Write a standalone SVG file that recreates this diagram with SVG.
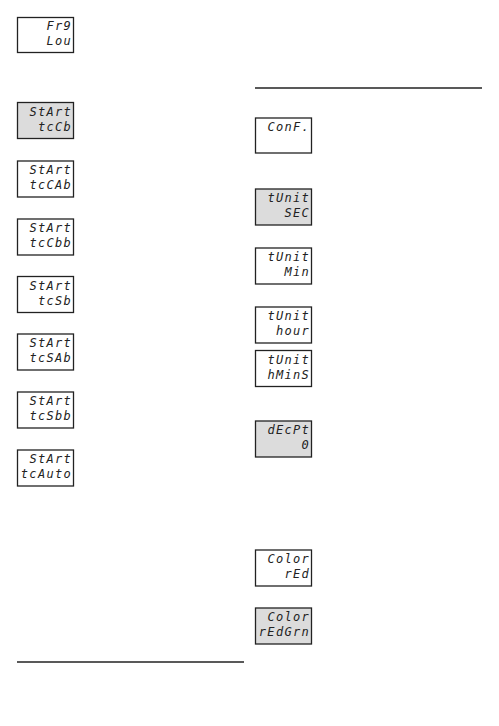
<svg xmlns="http://www.w3.org/2000/svg" width="499" height="726" viewBox="0 0 499 726">
<style>
.box{fill:#fff;stroke:#222;stroke-width:1.3}
.sel{fill:#dcdcdc;stroke:#222;stroke-width:1.3}
.t{font-family:"DejaVu Sans Mono","Liberation Mono",monospace;font-style:oblique;font-size:12px;letter-spacing:1.3px;fill:#222;text-anchor:end}
.rule{stroke:#222;stroke-width:1.5}
</style>
<rect width="499" height="726" fill="#fff"/>
<g id="n-frq"><rect class="box" x="17.5" y="17.5" width="56" height="35"/><text class="t" x="72" y="30">Fr9</text><text class="t" x="72" y="45">Lou</text></g>
<g id="n-tccb"><rect class="sel" x="17.5" y="102.5" width="56" height="36"/><text class="t" x="72" y="116">StArt</text><text class="t" x="72" y="131">tcCb</text></g>
<g id="n-tccab"><rect class="box" x="17.5" y="161" width="56" height="36"/><text class="t" x="72" y="174">StArt</text><text class="t" x="72" y="189">tcCAb</text></g>
<g id="n-tccbb"><rect class="box" x="17.5" y="219" width="56" height="36"/><text class="t" x="72" y="232">StArt</text><text class="t" x="72" y="247">tcCbb</text></g>
<g id="n-tcsb"><rect class="box" x="17.5" y="276.5" width="56" height="36"/><text class="t" x="72" y="290">StArt</text><text class="t" x="72" y="305">tcSb</text></g>
<g id="n-tcsab"><rect class="box" x="17.5" y="334" width="56" height="36"/><text class="t" x="72" y="347">StArt</text><text class="t" x="72" y="362">tcSAb</text></g>
<g id="n-tcsbb"><rect class="box" x="17.5" y="392" width="56" height="36"/><text class="t" x="72" y="405">StArt</text><text class="t" x="72" y="420">tcSbb</text></g>
<g id="n-tcauto"><rect class="box" x="17.5" y="450" width="56" height="36"/><text class="t" x="72" y="463">StArt</text><text class="t" x="72" y="478">tcAuto</text></g>
<g id="n-conf"><rect class="box" x="255.5" y="118" width="56" height="35"/><text class="t" x="310" y="131">ConF.</text></g>
<g id="n-sec"><rect class="sel" x="255.5" y="189" width="56" height="36"/><text class="t" x="310" y="202">tUnit</text><text class="t" x="310" y="217">SEC</text></g>
<g id="n-min"><rect class="box" x="255.5" y="248" width="56" height="36"/><text class="t" x="310" y="261">tUnit</text><text class="t" x="310" y="276">Min</text></g>
<g id="n-hour"><rect class="box" x="255.5" y="307" width="56" height="36"/><text class="t" x="310" y="320">tUnit</text><text class="t" x="310" y="335">hour</text></g>
<g id="n-hmins"><rect class="box" x="255.5" y="350.5" width="56" height="36"/><text class="t" x="310" y="364">tUnit</text><text class="t" x="310" y="379">hMinS</text></g>
<g id="n-decpt"><rect class="sel" x="255.5" y="421" width="56" height="36"/><text class="t" x="310" y="434">dEcPt</text><text class="t" x="310" y="449">0</text></g>
<g id="n-red"><rect class="box" x="255.5" y="550" width="56" height="36"/><text class="t" x="310" y="563">Color</text><text class="t" x="310" y="578">rEd</text></g>
<g id="n-redgrn"><rect class="sel" x="255.5" y="608" width="56" height="36"/><text class="t" x="310" y="621">Color</text><text class="t" x="310" y="636">rEdGrn</text></g>
<g id="connectors">
<line class="rule" x1="255" y1="88" x2="482" y2="88"/>
<line class="rule" x1="17" y1="662" x2="244" y2="662"/>
</g>
</svg>
